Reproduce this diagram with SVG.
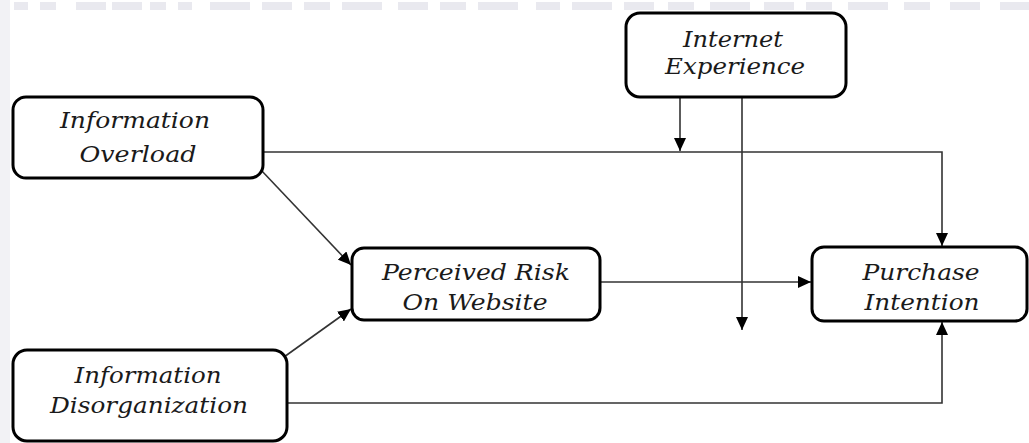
<svg xmlns="http://www.w3.org/2000/svg" width="1029" height="443" viewBox="0 0 1029 443">
  <style>
    .box { fill: #ffffff; stroke: #000000; stroke-width: 3; }
    .lbl { font-family: "DejaVu Serif", "Liberation Serif", serif; font-style: italic; font-size: 22px; fill: #1a1a1a; text-anchor: middle; }
    .edge { fill: none; stroke: #333333; stroke-width: 1.6; }
    .band { fill: #e9e9ef; }
  </style>
  <defs>
    <marker id="arrow" markerUnits="userSpaceOnUse" markerWidth="14" markerHeight="12" refX="13" refY="6" orient="auto">
      <path d="M0,0 L13,6 L0,12 Z" fill="#000000"/>
    </marker>
  </defs>

  <rect width="1029" height="443" fill="#ffffff"/>

  <!-- faint background band along the top and left edges -->
  <g id="backdrop">
    <rect class="band" x="0" y="0" width="10" height="443" opacity="0.6"/>
    <rect class="band" x="14" y="2" width="14" height="8"/>
    <rect class="band" x="40" y="2" width="16" height="8"/>
    <rect class="band" x="76" y="2" width="30" height="8"/>
    <rect class="band" x="112" y="2" width="30" height="8"/>
    <rect class="band" x="150" y="2" width="16" height="8"/>
    <rect class="band" x="178" y="2" width="14" height="8"/>
    <rect class="band" x="210" y="2" width="40" height="8"/>
    <rect class="band" x="262" y="2" width="30" height="8"/>
    <rect class="band" x="304" y="2" width="26" height="8"/>
    <rect class="band" x="342" y="2" width="40" height="8"/>
    <rect class="band" x="398" y="2" width="30" height="8"/>
    <rect class="band" x="440" y="2" width="26" height="8"/>
    <rect class="band" x="478" y="2" width="40" height="8"/>
    <rect class="band" x="536" y="2" width="24" height="8"/>
    <rect class="band" x="572" y="2" width="40" height="8"/>
    <rect class="band" x="624" y="2" width="30" height="8"/>
    <rect class="band" x="668" y="2" width="26" height="8"/>
    <rect class="band" x="710" y="2" width="40" height="8"/>
    <rect class="band" x="764" y="2" width="30" height="8"/>
    <rect class="band" x="806" y="2" width="26" height="8"/>
    <rect class="band" x="848" y="2" width="40" height="8"/>
    <rect class="band" x="904" y="2" width="26" height="8"/>
    <rect class="band" x="950" y="2" width="30" height="8"/>
    <rect class="band" x="1000" y="2" width="29" height="8"/>
  </g>

  <!-- connectors -->
  <g id="connectors">
    <path class="edge" d="M263,152 H942 V246" marker-end="url(#arrow)"/>
    <path class="edge" d="M680,98 V151" marker-end="url(#arrow)"/>
    <path class="edge" d="M742,98 V330" marker-end="url(#arrow)"/>
    <path class="edge" d="M261,170 L351,265" marker-end="url(#arrow)"/>
    <path class="edge" d="M284,357 L351,309" marker-end="url(#arrow)"/>
    <path class="edge" d="M601,282 H811" marker-end="url(#arrow)"/>
    <path class="edge" d="M288,403 H942 V322" marker-end="url(#arrow)"/>
  </g>

  <g id="information-overload">
    <rect class="box" x="13" y="97" width="250" height="81" rx="13"/>
    <text class="lbl" x="135" y="128" textLength="150" lengthAdjust="spacingAndGlyphs">Information</text>
    <text class="lbl" x="138" y="162" textLength="117" lengthAdjust="spacingAndGlyphs">Overload</text>
  </g>

  <g id="internet-experience">
    <rect class="box" x="626" y="13" width="220" height="84" rx="14"/>
    <text class="lbl" x="733" y="47" textLength="100" lengthAdjust="spacingAndGlyphs">Internet</text>
    <text class="lbl" x="735" y="74" textLength="140" lengthAdjust="spacingAndGlyphs">Experience</text>
  </g>

  <g id="perceived-risk">
    <rect class="box" x="352" y="248" width="248" height="72" rx="12"/>
    <text class="lbl" x="476" y="280" textLength="188" lengthAdjust="spacingAndGlyphs">Perceived Risk</text>
    <text class="lbl" x="475" y="310" textLength="145" lengthAdjust="spacingAndGlyphs">On Website</text>
  </g>

  <g id="purchase-intention">
    <rect class="box" x="812" y="247" width="215" height="74" rx="12"/>
    <text class="lbl" x="921" y="280" textLength="117" lengthAdjust="spacingAndGlyphs">Purchase</text>
    <text class="lbl" x="922" y="310" textLength="115" lengthAdjust="spacingAndGlyphs">Intention</text>
  </g>

  <g id="information-disorganization">
    <rect class="box" x="13" y="350" width="274" height="91" rx="14"/>
    <text class="lbl" x="148" y="383" textLength="147" lengthAdjust="spacingAndGlyphs">Information</text>
    <text class="lbl" x="149" y="413" textLength="198" lengthAdjust="spacingAndGlyphs">Disorganization</text>
  </g>
</svg>
